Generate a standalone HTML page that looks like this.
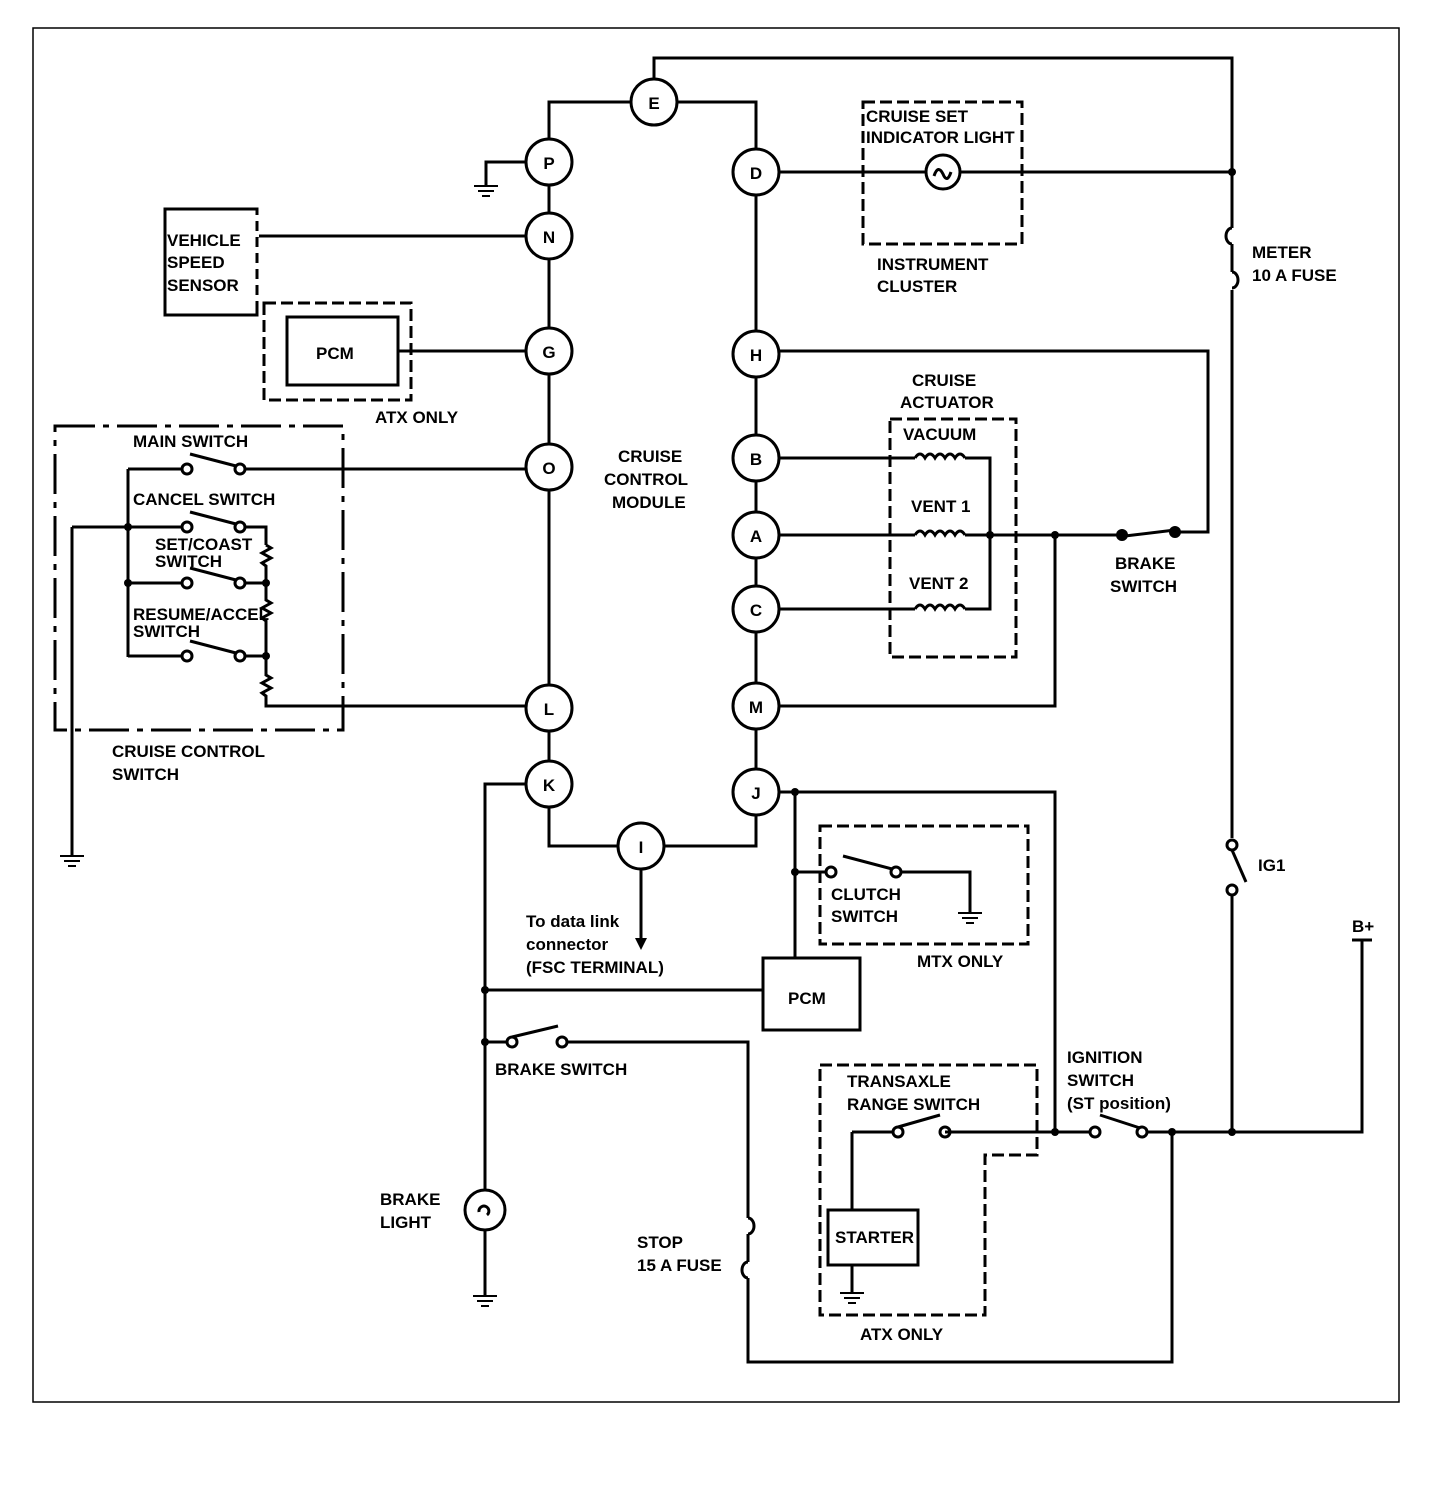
<!DOCTYPE html>
<html><head><style>
html,body{margin:0;padding:0;background:#fff;}
svg{display:block;}
text{font-family:"Liberation Sans",Arial,sans-serif;font-weight:bold;font-size:17px;fill:#000;}
</style></head><body>
<svg width="1440" height="1494" viewBox="0 0 1440 1494" xmlns="http://www.w3.org/2000/svg">
<defs>
<g id="gnd"><line x1="-12" y1="0" x2="12" y2="0"/><line x1="-8" y1="5" x2="8" y2="5"/><line x1="-4" y1="10" x2="4" y2="10"/></g>
</defs>
<rect x="33" y="28" width="1366" height="1374" fill="none" stroke="#000" stroke-width="1.5"/>
<g fill="none" stroke="#000" stroke-width="3">
<!-- top loop -->
<polyline points="654,79 654,58 1232,58 1232,228"/>
<polyline points="1232,290 1232,838"/>
<polyline points="1232,896 1232,1132"/>
<path d="M1232,228 a6,8 0 0 0 0,16 M1232,272 a6,8 0 0 1 0,16"/>
<line x1="1232" y1="244" x2="1232" y2="272"/>
<circle cx="1232" cy="845" r="5"/><circle cx="1232" cy="890" r="5"/>
<line x1="1232" y1="850" x2="1246" y2="882"/>
<polyline points="631,102 549,102 549,139"/>
<polyline points="677,102 756,102 756,149"/>
<!-- spines -->
<line x1="549" y1="185" x2="549" y2="213"/><line x1="549" y1="259" x2="549" y2="328"/>
<line x1="549" y1="374" x2="549" y2="444"/><line x1="549" y1="490" x2="549" y2="685"/>
<line x1="549" y1="731" x2="549" y2="761"/>
<line x1="756" y1="195" x2="756" y2="331"/><line x1="756" y1="377" x2="756" y2="435"/>
<line x1="756" y1="481" x2="756" y2="512"/><line x1="756" y1="558" x2="756" y2="586"/>
<line x1="756" y1="632" x2="756" y2="683"/><line x1="756" y1="729" x2="756" y2="769"/>
<polyline points="549,807 549,846 618,846"/><polyline points="756,815 756,846 664,846"/>
<line x1="641" y1="869" x2="641" y2="940"/>
<!-- P ground -->
<polyline points="526,162 486,162 486,185"/>
<!-- N, G -->
<line x1="526" y1="236" x2="257" y2="236"/>
<line x1="526" y1="351" x2="398" y2="351"/>
<rect x="287" y="317" width="111" height="68"/>
<!-- D -->
<line x1="779" y1="172" x2="926" y2="172"/><line x1="960" y1="172" x2="1232" y2="172"/>
<circle cx="943" cy="172" r="17"/>
<path d="M934,176 q4,-12 9,-2 q4,10 8,-2"/>
<!-- H / brake switch -->
<polyline points="779,351 1208,351 1208,532 1175,532"/>
<line x1="1125" y1="536" x2="1175" y2="530"/>
<!-- B -->
<line x1="779" y1="458" x2="915" y2="458"/>
<polyline points="965,458 990,458 990,609 965,609"/>
<path d="M915,458 q5,-8 10,0 q5,-8 10,0 q5,-8 10,0 q5,-8 10,0 q5,-8 10,0"/>
<!-- A -->
<line x1="779" y1="535" x2="915" y2="535"/><line x1="965" y1="535" x2="1122" y2="535"/>
<path d="M915,535 q5,-8 10,0 q5,-8 10,0 q5,-8 10,0 q5,-8 10,0 q5,-8 10,0"/>
<!-- C -->
<line x1="779" y1="609" x2="915" y2="609"/>
<path d="M915,609 q5,-8 10,0 q5,-8 10,0 q5,-8 10,0 q5,-8 10,0 q5,-8 10,0"/>
<!-- M -->
<polyline points="779,706 1055,706 1055,535"/>
<!-- J -->
<polyline points="779,792 1055,792 1055,1132"/>
<line x1="795" y1="792" x2="795" y2="958"/>
<line x1="795" y1="872" x2="826" y2="872"/>
<circle cx="831" cy="872" r="5"/><circle cx="896" cy="872" r="5"/>
<line x1="843" y1="856" x2="892" y2="869"/>
<polyline points="901,872 970,872 970,912"/>
<rect x="763" y="958" width="97" height="72"/>
<!-- K / left bottom -->
<polyline points="526,784 485,784 485,1190"/>
<line x1="485" y1="990" x2="763" y2="990"/>
<line x1="485" y1="1042" x2="507" y2="1042"/>
<circle cx="512" cy="1042" r="5"/><circle cx="562" cy="1042" r="5"/>
<line x1="512" y1="1037" x2="558" y2="1026"/>
<polyline points="567,1042 748,1042 748,1218"/>
<path d="M748,1218 a6,8 0 0 1 0,16 M748,1262 a6,8 0 0 0 0,16"/>
<line x1="748" y1="1234" x2="748" y2="1262"/>
<polyline points="748,1278 748,1362 1172,1362 1172,1132"/>
<circle cx="485" cy="1210" r="20"/>
<path d="M479,1212 a5,5 0 1 1 8,3"/>
<line x1="485" y1="1230" x2="485" y2="1295"/>
<!-- ignition / B+ -->
<line x1="945" y1="1132" x2="1090" y2="1132"/>
<circle cx="1095" cy="1132" r="5"/><circle cx="1142" cy="1132" r="5"/>
<line x1="1100" y1="1115" x2="1140" y2="1128"/>
<polyline points="1147,1132 1362,1132 1362,940"/>
<line x1="1352" y1="940" x2="1372" y2="940"/>
<!-- transaxle -->
<circle cx="898" cy="1132" r="5"/><circle cx="945" cy="1132" r="5"/>
<line x1="893" y1="1132" x2="852" y2="1132"/><line x1="852" y1="1132" x2="852" y2="1210"/>
<line x1="898" y1="1127" x2="940" y2="1115"/>
<rect x="828" y="1210" width="90" height="55"/>
<line x1="852" y1="1265" x2="852" y2="1292"/>
<!-- left switch module -->
<line x1="257" y1="236" x2="257" y2="236"/>
<rect x="165" y="209" width="92" height="106"/>
<line x1="128" y1="469" x2="128" y2="657"/>
<line x1="128" y1="469" x2="182" y2="469"/><circle cx="187" cy="469" r="5"/><circle cx="240" cy="469" r="5"/>
<line x1="190" y1="454" x2="236" y2="466"/><line x1="245" y1="469" x2="526" y2="469"/>
<line x1="72" y1="527" x2="182" y2="527"/><line x1="72" y1="527" x2="72" y2="855"/>
<circle cx="187" cy="527" r="5"/><circle cx="240" cy="527" r="5"/>
<line x1="190" y1="512" x2="236" y2="524"/>
<polyline points="245,527 266,527 266,545"/>
<line x1="128" y1="583" x2="182" y2="583"/><circle cx="187" cy="583" r="5"/><circle cx="240" cy="583" r="5"/>
<line x1="190" y1="568" x2="236" y2="580"/><line x1="245" y1="583" x2="266" y2="583"/>
<line x1="128" y1="656" x2="182" y2="656"/><circle cx="187" cy="656" r="5"/><circle cx="240" cy="656" r="5"/>
<line x1="190" y1="641" x2="236" y2="653"/><line x1="245" y1="656" x2="266" y2="656"/>
<path d="M266,545 l5,3 l-9,5 l9,5 l-9,5 l4,3 L266,600 l5,3 l-9,5 l9,5 l-9,5 l4,3 L266,675 l5,3 l-9,5 l9,5 l-9,5 l4,3 L266,706 L526,706"/>
</g>
<g stroke="#000" stroke-width="2">
<use href="#gnd" x="486" y="186"/><use href="#gnd" x="72" y="856"/><use href="#gnd" x="970" y="913"/>
<use href="#gnd" x="852" y="1293"/><use href="#gnd" x="485" y="1296"/>
</g>
<polygon points="635,938 647,938 641,950" fill="#000"/>
<!-- dots -->
<g fill="#000">
<circle cx="1232" cy="172" r="4"/><circle cx="1232" cy="1132" r="4"/><circle cx="1172" cy="1132" r="4"/>
<circle cx="1055" cy="1132" r="4"/><circle cx="1055" cy="535" r="4"/><circle cx="990" cy="535" r="4"/>
<circle cx="1122" cy="535" r="6"/><circle cx="1175" cy="532" r="6"/>
<circle cx="795" cy="792" r="4"/><circle cx="795" cy="872" r="4"/>
<circle cx="485" cy="990" r="4"/><circle cx="485" cy="1042" r="4"/>
<circle cx="128" cy="527" r="4"/><circle cx="128" cy="583" r="4"/><circle cx="266" cy="583" r="4"/><circle cx="266" cy="656" r="4"/>
</g>
<!-- dashed boxes -->
<g fill="none" stroke="#000" stroke-width="3" stroke-dasharray="12,5">
<rect x="863" y="102" width="159" height="142"/>
<rect x="264" y="303" width="147" height="97"/>
<rect x="890" y="419" width="126" height="238"/>
<rect x="820" y="826" width="208" height="118"/>
<polyline points="820,1065 1037,1065 1037,1155 985,1155 985,1315 820,1315 820,1065"/>
<rect x="55" y="426" width="288" height="304" stroke-dasharray="40,8,6,8"/>
</g>
<line x1="257" y1="215" x2="257" y2="310" stroke="#fff" stroke-width="4" stroke-dasharray="6,10"/>
<!-- node circles -->
<g fill="#fff" stroke="#000" stroke-width="3">
<circle cx="654" cy="102" r="23"/><circle cx="549" cy="162" r="23"/><circle cx="756" cy="172" r="23"/>
<circle cx="549" cy="236" r="23"/><circle cx="549" cy="351" r="23"/><circle cx="756" cy="354" r="23"/>
<circle cx="756" cy="458" r="23"/><circle cx="549" cy="467" r="23"/><circle cx="756" cy="535" r="23"/>
<circle cx="756" cy="609" r="23"/><circle cx="549" cy="708" r="23"/><circle cx="756" cy="706" r="23"/>
<circle cx="549" cy="784" r="23"/><circle cx="756" cy="792" r="23"/><circle cx="641" cy="846" r="23"/>
</g>
<g text-anchor="middle" font-size="18">
<text x="654" y="109">E</text><text x="549" y="169">P</text><text x="756" y="179">D</text>
<text x="549" y="243">N</text><text x="549" y="358">G</text><text x="756" y="361">H</text>
<text x="756" y="465">B</text><text x="549" y="474">O</text><text x="756" y="542">A</text>
<text x="756" y="616">C</text><text x="549" y="715">L</text><text x="756" y="713">M</text>
<text x="549" y="791">K</text><text x="756" y="799">J</text><text x="641" y="853">I</text>
</g>
<!-- labels -->
<text x="866" y="122" font-size="16">CRUISE SET</text>
<text x="866" y="143" font-size="16">INDICATOR LIGHT</text>
<text x="877" y="270">INSTRUMENT</text><text x="877" y="292">CLUSTER</text>
<text x="1252" y="258">METER</text><text x="1252" y="281">10 A FUSE</text>
<text x="167" y="246">VEHICLE</text><text x="167" y="268">SPEED</text><text x="167" y="291">SENSOR</text>
<text x="316" y="359">PCM</text><text x="375" y="423">ATX ONLY</text>
<text x="133" y="447">MAIN SWITCH</text><text x="133" y="505">CANCEL SWITCH</text>
<text x="155" y="550" font-size="13">SET/COAST</text><text x="155" y="567" font-size="13">SWITCH</text>
<text x="133" y="620" font-size="13">RESUME/ACCEL</text><text x="133" y="637" font-size="13">SWITCH</text>
<text x="112" y="757">CRUISE CONTROL</text><text x="112" y="780">SWITCH</text>
<text x="618" y="462">CRUISE</text><text x="604" y="485">CONTROL</text><text x="612" y="508">MODULE</text>
<text x="912" y="386">CRUISE</text><text x="900" y="408">ACTUATOR</text>
<text x="903" y="440">VACUUM</text><text x="911" y="512">VENT 1</text><text x="909" y="589">VENT 2</text>
<text x="1115" y="569">BRAKE</text><text x="1110" y="592">SWITCH</text>
<text x="1258" y="871">IG1</text><text x="1352" y="932">B+</text>
<text x="831" y="900">CLUTCH</text><text x="831" y="922">SWITCH</text>
<text x="917" y="967">MTX ONLY</text>
<text x="526" y="927" font-size="16" font-weight="normal">To data link</text>
<text x="526" y="950" font-size="16" font-weight="normal">connector</text>
<text x="526" y="973" font-size="16" font-weight="normal">(FSC TERMINAL)</text>
<text x="788" y="1004">PCM</text>
<text x="495" y="1075">BRAKE SWITCH</text>
<text x="1067" y="1063">IGNITION</text><text x="1067" y="1086">SWITCH</text><text x="1067" y="1109">(ST position)</text>
<text x="847" y="1087">TRANSAXLE</text><text x="847" y="1110">RANGE SWITCH</text>
<text x="835" y="1243">STARTER</text><text x="860" y="1340">ATX ONLY</text>
<text x="380" y="1205">BRAKE</text><text x="380" y="1228">LIGHT</text>
<text x="637" y="1248">STOP</text><text x="637" y="1271">15 A FUSE</text>
</svg>
</body></html>
